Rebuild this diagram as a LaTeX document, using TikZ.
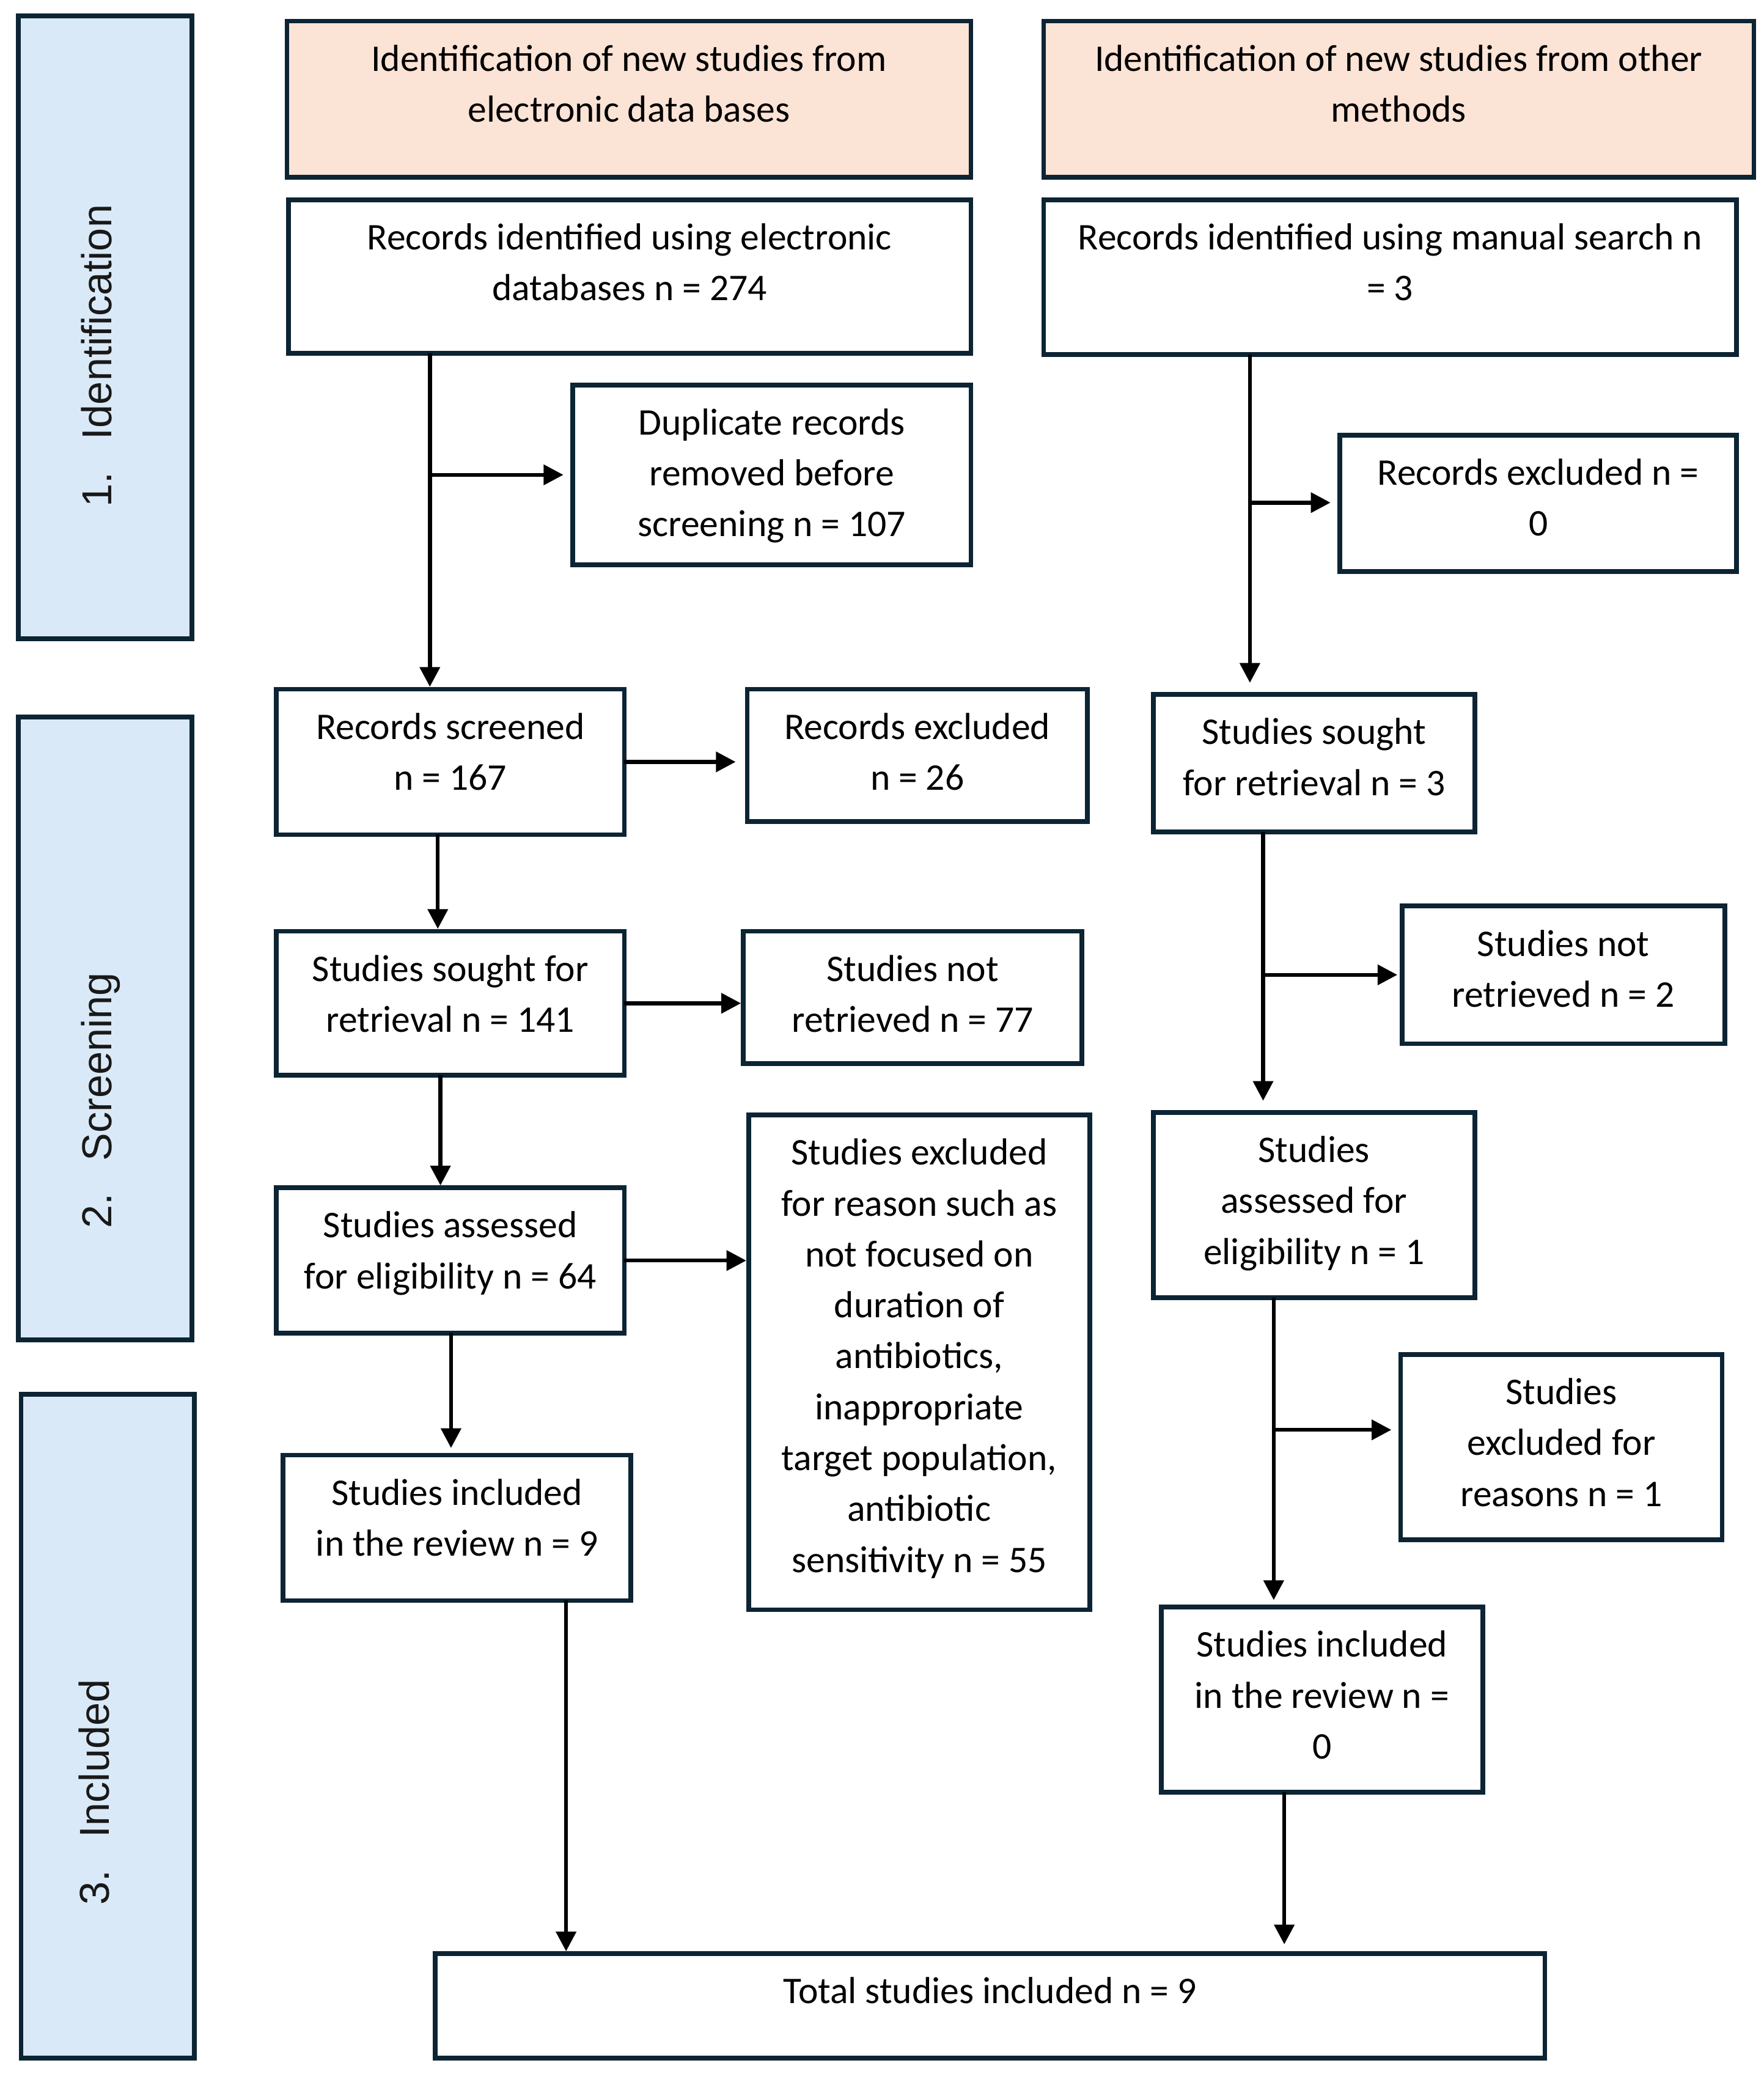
\documentclass[tikz,border=0pt]{standalone}
\usepackage{fontspec}
\setmainfont{Carlito}
\newfontfamily\stagefont{Liberation Sans}
\usetikzlibrary{arrows.meta}
\definecolor{bord}{HTML}{0C2433}
\definecolor{stagefill}{HTML}{DAE9F7}
\definecolor{headfill}{HTML}{FBE3D6}
\newlength\bxw
\newlength\bxh
% \bx[style]{name}{x1}{y1}{x2}{y2}{text}
\newcommand\bx[7][]{%
  \pgfmathsetlength\bxw{(#5-#3)*0.02cm}%
  \pgfmathsetlength\bxh{(#6-#4)*0.02cm}%
  \node[box,#1,minimum width=\bxw,minimum height=\bxh,anchor=north west] (#2) at (#3,#4)
    {\parbox[c][\bxh][t]{\bxw}{\centering\rule{0pt}{21.5pt}#7}};}
\begin{document}
\begin{tikzpicture}[x={(0.02cm,0)}, y={(0,-0.02cm)},
  box/.style={draw=bord, line width=2pt, fill=white, inner sep=0pt, outer sep=0pt,
    font=\fontsize{16.2pt}{21.9pt}\selectfont, text=black},
  head/.style={fill=headfill},
  stagebox/.style={fill=stagefill},
  stagelbl/.style={rotate=90, font=\stagefont\fontsize{18pt}{20pt}\selectfont, inner sep=0pt, text=black!90},
  arr/.style={line width=1.7pt, -{Triangle[length=8.5pt,width=8.5pt]}, shorten >=1pt}]
\path[fill=white] (0,0) rectangle (1333.7,1568);
\useasboundingbox (0,0) rectangle (1333.7,1568);

% stage boxes
\bx[stagebox]{s1}{14}{12}{145}{483}{}
\bx[stagebox]{s2}{14}{542}{145}{1013}{}
\bx[stagebox]{s3}{16}{1054}{147}{1556}{}
\node[stagelbl] (s1l) at (73,269) {1.\hspace{14pt}Identification};
\node[stagelbl] (s2l) at (76,832) {2.\hspace{14pt}Screening};
\node[stagelbl] (s3l) at (71,1355) {3.\hspace{14pt}Included};

% headers
\bx[head]{h1}{217}{16}{734}{134}{Identification of new studies from\\electronic data bases}
\bx[head]{h2}{789}{16}{1326}{134}{Identification of new studies from other\\methods}

% left column
\bx{a1}{218}{151}{734}{267}{Records identified using electronic\\databases n = 274}
\bx{a2}{433}{291}{734}{427}{Duplicate records\\removed before\\screening n = 107}
\bx{b1}{209}{521}{472}{631}{Records screened\\n = 167}
\bx{b2}{565}{521}{822}{621}{Records excluded\\n = 26}
\bx{c1}{209}{704}{472}{813}{Studies sought for\\retrieval n = 141}
\bx{c2}{562}{704}{818}{804}{Studies not\\retrieved n = 77}
\bx{d1}{209}{898}{472}{1008}{Studies assessed\\for eligibility n = 64}
\bx{d2}{566}{843}{824}{1217}{Studies excluded\\for reason such as\\not focused on\\duration of\\antibiotics,\\inappropriate\\target population,\\antibiotic\\sensitivity n = 55}
\bx{e1}{214}{1100}{477}{1210}{Studies included\\in the review n = 9}
\bx{tot}{329}{1477}{1168}{1556}{Total studies included n = 9}

% right column
\bx{r1}{789}{151}{1313}{268}{Records identified using manual search n\\= 3}
\bx{r2}{1013}{329}{1313}{432}{Records excluded n =\\0}
\bx{r3}{872}{525}{1115}{629}{Studies sought\\for retrieval n = 3}
\bx{r4}{1060}{685}{1304}{789}{Studies not\\retrieved n = 2}
\bx{r5}{872}{841}{1115}{981}{Studies\\assessed for\\eligibility n = 1}
\bx{r6}{1059}{1024}{1302}{1164}{Studies\\excluded for\\reasons n = 1}
\bx{r7}{878}{1215}{1121}{1355}{Studies included\\in the review n =\\0}

% junction / trunk coordinates
\coordinate (j1) at (325,359);
\coordinate (k1) at (331,668);
\coordinate (k2) at (333,855);
\coordinate (k3) at (341,1050);
\coordinate (k4) at (428,1340);
\coordinate (j2) at (945,380);
\coordinate (j3) at (955,737);
\coordinate (j4) at (963,1081);
\coordinate (k5) at (971,1410);

% left connectors
\draw[arr] (a1.south -| j1) -- (b1.north -| j1);
\draw[arr, shorten >=4pt] (j1) -- (j1 -| a2.west);
\draw[arr, shorten >=5pt] (b1.east) -- (b1.east -| b2.west);
\draw[arr] (k1 |- b1.south) -- (k1 |- c1.north);
\draw[arr] (c1.east) -- (c1.east -| c2.west);
\draw[arr] (k2 |- c1.south) -- (k2 |- d1.north);
\draw[arr] (d1.east) -- (d1.east -| d2.west);
\draw[arr, shorten >=3pt] (k3 |- d1.south) -- (k3 |- e1.north);
\draw[arr] (k4 |- e1.south) -- (k4 |- tot.north);

% right connectors
\draw[arr, shorten >=5pt] (j2 |- r1.south) -- (j2 |- r3.north);
\draw[arr, shorten >=4pt] (j2) -- (j2 -| r2.west);
\draw[arr, shorten >=5pt] (j3 |- r3.south) -- (j3 |- r5.north);
\draw[arr, shorten >=2pt] (j3) -- (j3 -| r4.west);
\draw[arr, shorten >=3pt] (j4 |- r5.south) -- (j4 |- r7.north);
\draw[arr, shorten >=4pt] (j4) -- (j4 -| r6.west);
\draw[arr, shorten >=4pt] (k5 |- r7.south) -- (k5 |- tot.north);
\end{tikzpicture}
\end{document}
